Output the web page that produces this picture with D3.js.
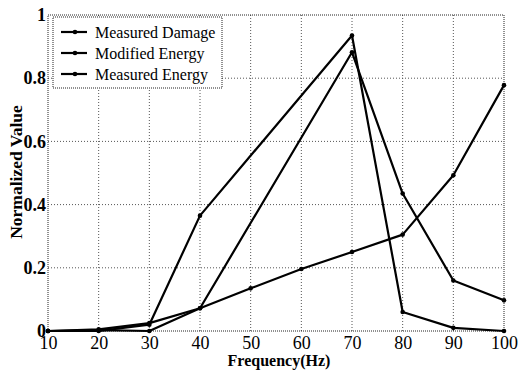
<!DOCTYPE html>
<html><head><meta charset="utf-8">
<script src="https://cdn.jsdelivr.net/npm/d3@7"></script>
<style>body{margin:0;background:#fff}svg{display:block}</style>
</head><body>
<script>
const frequencies = [10,20,30,40,50,60,70,80,90,100];
const damageFrequencies = [10,20,30,40,70,80,90,100];
const measuredDamage = [0,0,0.02,0.365,0.935,0.06,0.01,0];
const modifiedEnergy = [0,0.003,0,0.072,0.882,0.435,0.16,0.097];
const measuredEnergy = [0,0.005,0.025,0.072,0.135,0.196,0.25,0.305,0.493,0.778];
const seriesNames = ["Measured Damage","Modified Energy","Measured Energy"];
const xTicks = [10,20,30,40,50,60,70,80,90,100];
const yTicks = [0,0.2,0.4,0.6,0.8,1];
const yTickLabels = ["0","0.2","0.4","0.6","0.8","1"];

const FONT='"Liberation Serif"';
const W=522,H=372;
const svg=d3.select("body").append("svg").attr("width",W).attr("height",H).style("font-family",FONT);
const x=d3.scaleLinear().domain([10,100]).range([48,504]);
const y=d3.scaleLinear().domain([0,1]).range([331,15]);

const g=svg.append("g");
g.selectAll(".vg").data(xTicks.slice(1,-1)).enter().append("line")
 .attr("x1",d=>x(d)).attr("x2",d=>x(d)).attr("y1",y(0)).attr("y2",y(1))
 .attr("stroke","#555").attr("stroke-width",1).attr("stroke-dasharray","1,2");
g.selectAll(".hg").data(yTicks.slice(1,-1)).enter().append("line")
 .attr("x1",x(10)).attr("x2",x(100)).attr("y1",d=>y(d)).attr("y2",d=>y(d))
 .attr("stroke","#555").attr("stroke-width",1).attr("stroke-dasharray","1,2");
svg.append("rect").attr("x",x(10)).attr("y",y(1)).attr("width",x(100)-x(10)).attr("height",y(0)-y(1))
 .attr("fill","none").attr("stroke","#222").attr("stroke-width",1).attr("stroke-dasharray","1,1");

const xAxis=d3.axisBottom(x).tickValues(xTicks).tickSize(0).tickPadding(5).tickFormat(d3.format("d"));
const xa=svg.append("g").attr("transform",`translate(0,${y(0)})`).call(xAxis);
xa.select(".domain").remove();
xa.selectAll("text").style("font-family",FONT).style("font-size","18px").attr("fill","#000");
const yAxis=d3.axisLeft(y).tickValues(yTicks).tickSize(0).tickPadding(2).tickFormat((d,i)=>yTickLabels[i]);
const ya=svg.append("g").attr("transform",`translate(${x(10)},0)`).call(yAxis);
ya.select(".domain").remove();
ya.selectAll("text").style("font-family",FONT).style("font-size","18px").style("font-weight","bold").attr("fill","#000");

svg.append("text").attr("x",279).attr("y",366).attr("text-anchor","middle")
 .style("font-family",FONT).style("font-size","16px").style("font-weight","bold").text("Frequency(Hz)");
svg.append("text").attr("transform","translate(22,172) rotate(-90)").attr("text-anchor","middle")
 .style("font-family",FONT).style("font-size","17.5px").style("font-weight","bold").text("Normalized Value");

const allSeries=[[damageFrequencies,measuredDamage],[damageFrequencies,modifiedEnergy],[frequencies,measuredEnergy]];
allSeries.forEach(([fx,s])=>{
  const line=d3.line().x((d,i)=>x(fx[i])).y(d=>y(d));
  svg.append("path").datum(s).attr("d",line).attr("fill","none").attr("stroke","#000").attr("stroke-width",2.2).attr("stroke-linejoin","round");
  svg.selectAll(null).data(s).enter().append("circle").attr("cx",(d,i)=>x(fx[i])).attr("cy",d=>y(d)).attr("r",2.3).attr("fill","#000");
});

const lg=svg.append("g");
lg.append("rect").attr("x",53).attr("y",17).attr("width",169).attr("height",71)
 .attr("fill","#fff").attr("stroke","#222").attr("stroke-width",1).attr("stroke-dasharray","1,1");
seriesNames.forEach((n,i)=>{
  const yy=32+i*21;
  lg.append("line").attr("x1",61).attr("x2",87).attr("y1",yy).attr("y2",yy).attr("stroke","#000").attr("stroke-width",2.2);
  lg.append("circle").attr("cx",75).attr("cy",yy).attr("r",2.3).attr("fill","#000");
  lg.append("text").attr("x",95).attr("y",yy+6).style("font-family",FONT).style("font-size","16px").text(n);
});
</script>
</body></html>
